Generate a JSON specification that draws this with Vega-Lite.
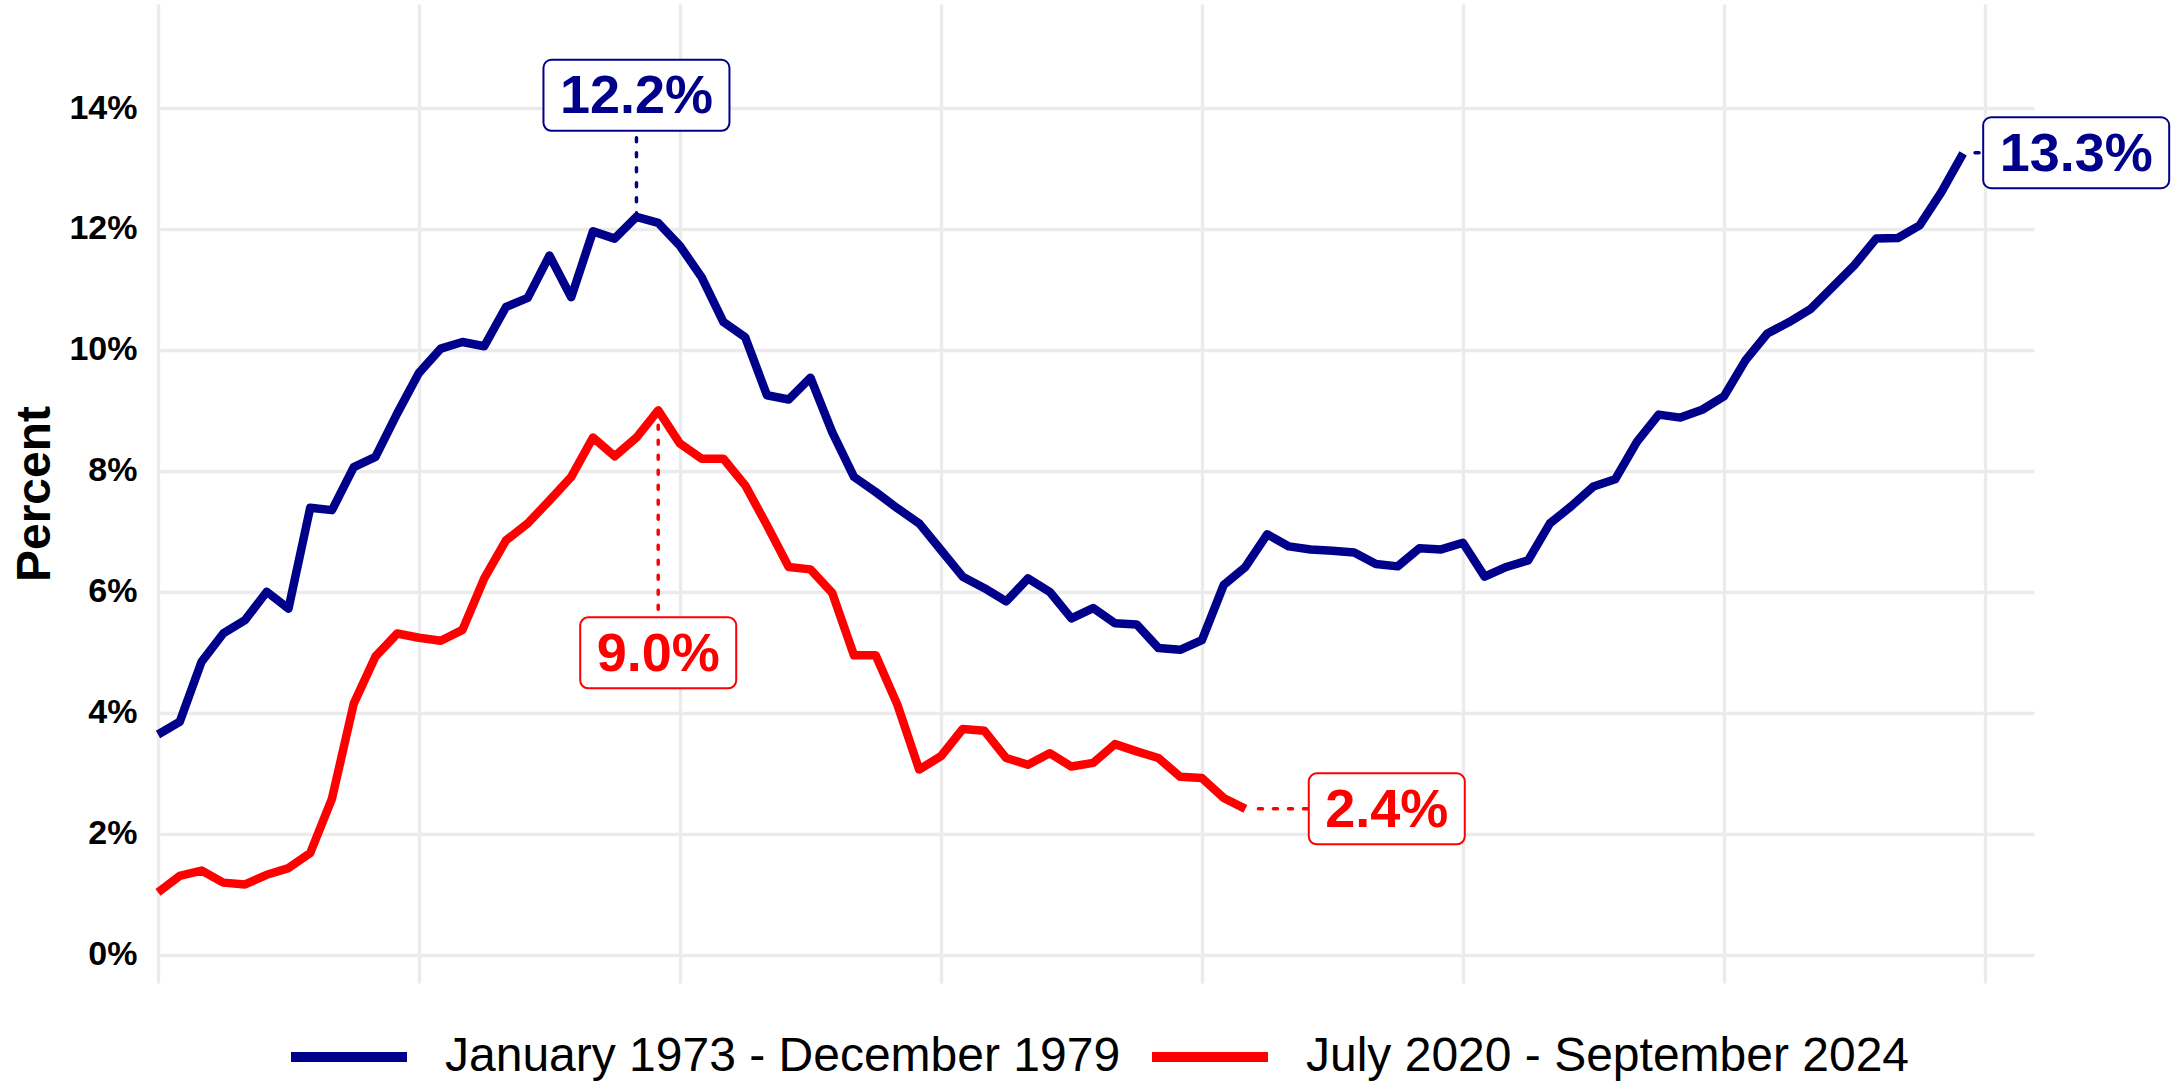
{
  "$schema": "https://vega.github.io/schema/vega-lite/v6.json",
  "width": 1876,
  "height": 979,
  "autosize": {"type": "none"},
  "padding": {"left": 158, "top": 4, "right": 146, "bottom": 100},
  "background": "white",
  "config": {"view": {"stroke": null}, "font": "Liberation Sans"},
  "datasets": {
    "cpi": [
      {"series": "January 1973 - December 1979", "month": 0, "value": 3.64},
      {"series": "January 1973 - December 1979", "month": 1, "value": 3.85},
      {"series": "January 1973 - December 1979", "month": 2, "value": 4.84},
      {"series": "January 1973 - December 1979", "month": 3, "value": 5.31},
      {"series": "January 1973 - December 1979", "month": 4, "value": 5.53},
      {"series": "January 1973 - December 1979", "month": 5, "value": 6.0},
      {"series": "January 1973 - December 1979", "month": 6, "value": 5.72},
      {"series": "January 1973 - December 1979", "month": 7, "value": 7.39},
      {"series": "January 1973 - December 1979", "month": 8, "value": 7.35},
      {"series": "January 1973 - December 1979", "month": 9, "value": 8.06},
      {"series": "January 1973 - December 1979", "month": 10, "value": 8.23},
      {"series": "January 1973 - December 1979", "month": 11, "value": 8.95},
      {"series": "January 1973 - December 1979", "month": 12, "value": 9.62},
      {"series": "January 1973 - December 1979", "month": 13, "value": 10.02},
      {"series": "January 1973 - December 1979", "month": 14, "value": 10.13},
      {"series": "January 1973 - December 1979", "month": 15, "value": 10.06},
      {"series": "January 1973 - December 1979", "month": 16, "value": 10.71},
      {"series": "January 1973 - December 1979", "month": 17, "value": 10.86},
      {"series": "January 1973 - December 1979", "month": 18, "value": 11.56},
      {"series": "January 1973 - December 1979", "month": 19, "value": 10.87},
      {"series": "January 1973 - December 1979", "month": 20, "value": 11.96},
      {"series": "January 1973 - December 1979", "month": 21, "value": 11.84},
      {"series": "January 1973 - December 1979", "month": 22, "value": 12.2},
      {"series": "January 1973 - December 1979", "month": 23, "value": 12.1},
      {"series": "January 1973 - December 1979", "month": 24, "value": 11.72},
      {"series": "January 1973 - December 1979", "month": 25, "value": 11.2},
      {"series": "January 1973 - December 1979", "month": 26, "value": 10.46},
      {"series": "January 1973 - December 1979", "month": 27, "value": 10.21},
      {"series": "January 1973 - December 1979", "month": 28, "value": 9.25},
      {"series": "January 1973 - December 1979", "month": 29, "value": 9.18},
      {"series": "January 1973 - December 1979", "month": 30, "value": 9.54},
      {"series": "January 1973 - December 1979", "month": 31, "value": 8.64},
      {"series": "January 1973 - December 1979", "month": 32, "value": 7.9},
      {"series": "January 1973 - December 1979", "month": 33, "value": 7.65},
      {"series": "January 1973 - December 1979", "month": 34, "value": 7.38},
      {"series": "January 1973 - December 1979", "month": 35, "value": 7.13},
      {"series": "January 1973 - December 1979", "month": 36, "value": 6.69},
      {"series": "January 1973 - December 1979", "month": 37, "value": 6.25},
      {"series": "January 1973 - December 1979", "month": 38, "value": 6.06},
      {"series": "January 1973 - December 1979", "month": 39, "value": 5.84},
      {"series": "January 1973 - December 1979", "month": 40, "value": 6.22},
      {"series": "January 1973 - December 1979", "month": 41, "value": 6.0},
      {"series": "January 1973 - December 1979", "month": 42, "value": 5.56},
      {"series": "January 1973 - December 1979", "month": 43, "value": 5.73},
      {"series": "January 1973 - December 1979", "month": 44, "value": 5.48},
      {"series": "January 1973 - December 1979", "month": 45, "value": 5.46},
      {"series": "January 1973 - December 1979", "month": 46, "value": 5.07},
      {"series": "January 1973 - December 1979", "month": 47, "value": 5.04},
      {"series": "January 1973 - December 1979", "month": 48, "value": 5.2},
      {"series": "January 1973 - December 1979", "month": 49, "value": 6.11},
      {"series": "January 1973 - December 1979", "month": 50, "value": 6.41},
      {"series": "January 1973 - December 1979", "month": 51, "value": 6.95},
      {"series": "January 1973 - December 1979", "month": 52, "value": 6.75},
      {"series": "January 1973 - December 1979", "month": 53, "value": 6.7},
      {"series": "January 1973 - December 1979", "month": 54, "value": 6.68},
      {"series": "January 1973 - December 1979", "month": 55, "value": 6.65},
      {"series": "January 1973 - December 1979", "month": 56, "value": 6.46},
      {"series": "January 1973 - December 1979", "month": 57, "value": 6.42},
      {"series": "January 1973 - December 1979", "month": 58, "value": 6.72},
      {"series": "January 1973 - December 1979", "month": 59, "value": 6.7},
      {"series": "January 1973 - December 1979", "month": 60, "value": 6.81},
      {"series": "January 1973 - December 1979", "month": 61, "value": 6.25},
      {"series": "January 1973 - December 1979", "month": 62, "value": 6.41},
      {"series": "January 1973 - December 1979", "month": 63, "value": 6.52},
      {"series": "January 1973 - December 1979", "month": 64, "value": 7.13},
      {"series": "January 1973 - December 1979", "month": 65, "value": 7.42},
      {"series": "January 1973 - December 1979", "month": 66, "value": 7.74},
      {"series": "January 1973 - December 1979", "month": 67, "value": 7.86},
      {"series": "January 1973 - December 1979", "month": 68, "value": 8.48},
      {"series": "January 1973 - December 1979", "month": 69, "value": 8.93},
      {"series": "January 1973 - December 1979", "month": 70, "value": 8.88},
      {"series": "January 1973 - December 1979", "month": 71, "value": 9.01},
      {"series": "January 1973 - December 1979", "month": 72, "value": 9.23},
      {"series": "January 1973 - December 1979", "month": 73, "value": 9.83},
      {"series": "January 1973 - December 1979", "month": 74, "value": 10.27},
      {"series": "January 1973 - December 1979", "month": 75, "value": 10.46},
      {"series": "January 1973 - December 1979", "month": 76, "value": 10.68},
      {"series": "January 1973 - December 1979", "month": 77, "value": 11.04},
      {"series": "January 1973 - December 1979", "month": 78, "value": 11.4},
      {"series": "January 1973 - December 1979", "month": 79, "value": 11.84},
      {"series": "January 1973 - December 1979", "month": 80, "value": 11.85},
      {"series": "January 1973 - December 1979", "month": 81, "value": 12.06},
      {"series": "January 1973 - December 1979", "month": 82, "value": 12.61},
      {"series": "January 1973 - December 1979", "month": 83, "value": 13.25},
      {"series": "July 2020 - September 2024", "month": 0, "value": 1.03},
      {"series": "July 2020 - September 2024", "month": 1, "value": 1.3},
      {"series": "July 2020 - September 2024", "month": 2, "value": 1.39},
      {"series": "July 2020 - September 2024", "month": 3, "value": 1.19},
      {"series": "July 2020 - September 2024", "month": 4, "value": 1.16},
      {"series": "July 2020 - September 2024", "month": 5, "value": 1.32},
      {"series": "July 2020 - September 2024", "month": 6, "value": 1.43},
      {"series": "July 2020 - September 2024", "month": 7, "value": 1.68},
      {"series": "July 2020 - September 2024", "month": 8, "value": 2.58},
      {"series": "July 2020 - September 2024", "month": 9, "value": 4.15},
      {"series": "July 2020 - September 2024", "month": 10, "value": 4.93},
      {"series": "July 2020 - September 2024", "month": 11, "value": 5.31},
      {"series": "July 2020 - September 2024", "month": 12, "value": 5.24},
      {"series": "July 2020 - September 2024", "month": 13, "value": 5.19},
      {"series": "July 2020 - September 2024", "month": 14, "value": 5.37},
      {"series": "July 2020 - September 2024", "month": 15, "value": 6.22},
      {"series": "July 2020 - September 2024", "month": 16, "value": 6.85},
      {"series": "July 2020 - September 2024", "month": 17, "value": 7.13},
      {"series": "July 2020 - September 2024", "month": 18, "value": 7.51},
      {"series": "July 2020 - September 2024", "month": 19, "value": 7.9},
      {"series": "July 2020 - September 2024", "month": 20, "value": 8.55},
      {"series": "July 2020 - September 2024", "month": 21, "value": 8.24},
      {"series": "July 2020 - September 2024", "month": 22, "value": 8.55},
      {"series": "July 2020 - September 2024", "month": 23, "value": 9.0},
      {"series": "July 2020 - September 2024", "month": 24, "value": 8.45},
      {"series": "July 2020 - September 2024", "month": 25, "value": 8.2},
      {"series": "July 2020 - September 2024", "month": 26, "value": 8.2},
      {"series": "July 2020 - September 2024", "month": 27, "value": 7.76},
      {"series": "July 2020 - September 2024", "month": 28, "value": 7.1},
      {"series": "July 2020 - September 2024", "month": 29, "value": 6.41},
      {"series": "July 2020 - September 2024", "month": 30, "value": 6.37},
      {"series": "July 2020 - September 2024", "month": 31, "value": 5.98},
      {"series": "July 2020 - September 2024", "month": 32, "value": 4.95},
      {"series": "July 2020 - September 2024", "month": 33, "value": 4.95},
      {"series": "July 2020 - September 2024", "month": 34, "value": 4.13},
      {"series": "July 2020 - September 2024", "month": 35, "value": 3.06},
      {"series": "July 2020 - September 2024", "month": 36, "value": 3.28},
      {"series": "July 2020 - September 2024", "month": 37, "value": 3.73},
      {"series": "July 2020 - September 2024", "month": 38, "value": 3.7},
      {"series": "July 2020 - September 2024", "month": 39, "value": 3.25},
      {"series": "July 2020 - September 2024", "month": 40, "value": 3.14},
      {"series": "July 2020 - September 2024", "month": 41, "value": 3.33},
      {"series": "July 2020 - September 2024", "month": 42, "value": 3.11},
      {"series": "July 2020 - September 2024", "month": 43, "value": 3.17},
      {"series": "July 2020 - September 2024", "month": 44, "value": 3.48},
      {"series": "July 2020 - September 2024", "month": 45, "value": 3.36},
      {"series": "July 2020 - September 2024", "month": 46, "value": 3.25},
      {"series": "July 2020 - September 2024", "month": 47, "value": 2.94},
      {"series": "July 2020 - September 2024", "month": 48, "value": 2.92},
      {"series": "July 2020 - September 2024", "month": 49, "value": 2.59},
      {"series": "July 2020 - September 2024", "month": 50, "value": 2.41}
    ],
    "labels": [
      {"series": "January 1973 - December 1979", "month": 22, "value": 14.21, "label": "12.2%"},
      {"series": "January 1973 - December 1979", "month": 88.2, "value": 13.26, "label": "13.3%"},
      {"series": "July 2020 - September 2024", "month": 23, "value": 4.99, "label": "9.0%"},
      {"series": "July 2020 - September 2024", "month": 56.5, "value": 2.41, "label": "2.4%"}
    ],
    "connectors": [
      {"series": "January 1973 - December 1979", "month": 22, "month2": 22, "value": 12.2, "value2": 13.63},
      {"series": "January 1973 - December 1979", "month": 83.55, "month2": 83.92, "value": 13.26, "value2": 13.26},
      {"series": "July 2020 - September 2024", "month": 23, "month2": 23, "value": 9.0, "value2": 5.58},
      {"series": "July 2020 - September 2024", "month": 50.6, "month2": 52.9, "value": 2.41, "value2": 2.41}
    ]
  },
  "layer": [
    {
      "data": {"name": "cpi"},
      "mark": {"type": "line", "strokeWidth": 8.5, "strokeJoin": "round", "strokeCap": "butt"},
      "encoding": {
        "x": {
          "field": "month", "type": "quantitative",
          "scale": {"domain": [0, 86.26], "nice": false, "zero": false},
          "axis": {"title": null, "values": [0, 12, 24, 36, 48, 60, 72, 84], "labels": false, "ticks": false, "domain": false, "grid": true, "gridColor": "#EBEBEB", "gridWidth": 3.3}
        },
        "y": {
          "field": "value", "type": "quantitative",
          "scale": {"domain": [-0.47, 15.72], "nice": false, "zero": false},
          "axis": {
            "title": "Percent", "values": [0, 2, 4, 6, 8, 10, 12, 14],
            "labelExpr": "datum.value + '%'",
            "labelFont": "Liberation Sans", "labelFontWeight": "bold", "labelFontSize": 34, "labelColor": "black",
            "labelPadding": 21, "ticks": false, "domain": false,
            "grid": true, "gridColor": "#EBEBEB", "gridWidth": 3.3,
            "titleFont": "Liberation Sans", "titleFontSize": 48, "titleFontWeight": "bold", "titleColor": "black",
            "titleAngle": 270, "titleBaseline": "alphabetic", "titleAlign": "center", "titleX": -109, "titleY": 489.5
          }
        },
        "color": {
          "field": "series", "type": "nominal",
          "scale": {"domain": ["January 1973 - December 1979", "July 2020 - September 2024"], "range": ["#00008B", "#FF0000"]},
          "legend": {
            "title": null, "orient": "none", "legendX": 128, "legendY": 990, "direction": "horizontal",
            "symbolType": "stroke", "symbolSize": 13456, "symbolStrokeWidth": 10,
            "labelFont": "Liberation Sans", "labelFontSize": 48, "labelColor": "black",
            "labelOffset": 33, "columnPadding": 11, "labelLimit": 2000, "padding": 0
          }
        }
      }
    },
    {
      "data": {"name": "connectors"},
      "mark": {"type": "rule", "strokeWidth": 3.5, "strokeDash": [4, 11], "strokeCap": "round"},
      "encoding": {
        "x": {"field": "month", "type": "quantitative"},
        "x2": {"field": "month2"},
        "y": {"field": "value", "type": "quantitative"},
        "y2": {"field": "value2"},
        "color": {"field": "series", "type": "nominal", "legend": null}
      }
    },
    {
      "data": {"name": "labels"},
      "transform": [{"filter": "length(datum.label) > 4"}],
      "mark": {"type": "rect", "width": 186, "height": 71, "cornerRadius": 8, "fill": "white", "strokeWidth": 2},
      "encoding": {
        "x": {"field": "month", "type": "quantitative"},
        "y": {"field": "value", "type": "quantitative"},
        "stroke": {"field": "series", "type": "nominal", "scale": {"domain": ["January 1973 - December 1979", "July 2020 - September 2024"], "range": ["#00008B", "#FF0000"]}, "legend": null}
      }
    },
    {
      "data": {"name": "labels"},
      "transform": [{"filter": "length(datum.label) <= 4"}],
      "mark": {"type": "rect", "width": 156, "height": 71, "cornerRadius": 8, "fill": "white", "strokeWidth": 2},
      "encoding": {
        "x": {"field": "month", "type": "quantitative"},
        "y": {"field": "value", "type": "quantitative"},
        "stroke": {"field": "series", "type": "nominal", "scale": {"domain": ["January 1973 - December 1979", "July 2020 - September 2024"], "range": ["#00008B", "#FF0000"]}, "legend": null}
      }
    },
    {
      "data": {"name": "labels"},
      "mark": {"type": "text", "font": "Liberation Sans", "fontWeight": "bold", "fontSize": 54, "align": "center", "baseline": "middle", "dy": 2},
      "encoding": {
        "x": {"field": "month", "type": "quantitative"},
        "y": {"field": "value", "type": "quantitative"},
        "text": {"field": "label"},
        "color": {"field": "series", "type": "nominal", "legend": null}
      }
    }
  ]
}
